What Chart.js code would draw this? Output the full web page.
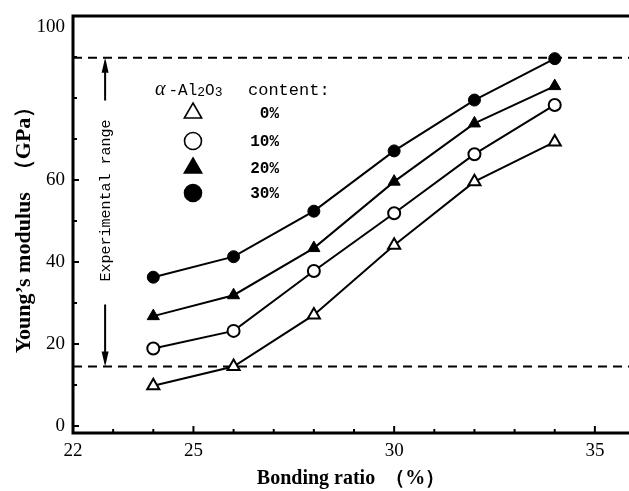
<!DOCTYPE html>
<html>
<head>
<meta charset="utf-8">
<script src="https://cdn.jsdelivr.net/npm/chart.js@4.4.0/dist/chart.umd.min.js"></script>
<style>
  html, body { margin: 0; padding: 0; background: #fff; overflow: hidden; }
  #wrap { width: 629px; height: 491px; }
</style>
</head>
<body>
<div id="wrap"><canvas id="modulusChart"></canvas></div>
<script>
// values
const bondingRatio = [24, 26, 28, 30, 32, 34];
const alumina0 = [9.8, 14.5, 27.1, 44.1, 59.6, 69.3];
const alumina10 = [18.9, 23.2, 37.8, 51.9, 66.3, 78.3];
const alumina20 = [26.8, 31.9, 43.4, 59.6, 73.8, 82.9];
const alumina30 = [36.3, 41.3, 52.4, 67.1, 79.5, 89.6];
const contentLabels = ['0%', '10%', '20%', '30%'];

const rangeUpper = 89.8;
const rangeLower = 14.5;

const xTickValues = [22, 23, 24, 25, 26, 27, 28, 29, 30, 31, 32, 33, 34, 35];
const xTickLabels = [22, 25, 30, 35];
const yTickValues = [0, 10, 20, 30, 40, 50, 60, 70, 80, 90, 100];
const yTickLabels = [0, 20, 40, 60, 100];

const X_MIN = 22, X_MAX = 35.85;
const Y_MIN = -1.7, Y_MAX = 100;

const serif = '"Liberation Serif", "Times New Roman", serif';
const mono = '"Liberation Mono", "DejaVu Sans Mono", monospace';

function series(label, values, style, filled) {
    return {
        label,
        data: bondingRatio.map((x, i) => ({ x, y: values[i] })),
        borderColor: '#000',
        borderWidth: 2,
        pointStyle: style,
        pointRadius: style === 'triangle' ? 7 : 6,
        pointBackgroundColor: filled ? '#000' : '#fff',
        pointBorderColor: '#000',
        pointBorderWidth: filled ? 1 : 2,
        tension: 0,
        clip: false
    };
}

function rangeLine(value) {
    return {
        label: 'range',
        data: [{ x: X_MIN, y: value }, { x: X_MAX, y: value }],
        borderColor: '#000',
        borderWidth: 2,
        borderDash: [9, 6],
        pointRadius: 0,
        tension: 0
    };
}

function drawMark(ctx, style, filled, x, y, r) {
    ctx.save();
    ctx.beginPath();
    if (style === 'triangle') {
        ctx.moveTo(x, y - r);
        ctx.lineTo(x + r * 0.866, y + r * 0.5);
        ctx.lineTo(x - r * 0.866, y + r * 0.5);
        ctx.closePath();
    } else {
        ctx.arc(x, y, r, 0, Math.PI * 2);
    }
    ctx.fillStyle = filled ? '#000' : '#fff';
    ctx.fill();
    ctx.lineWidth = 1.6;
    ctx.strokeStyle = '#000';
    ctx.stroke();
    ctx.restore();
}

const framePlugin = {
    id: 'frame',
    afterDraw(chart) {
        const { ctx, chartArea: a, scales } = chart;
        const xs = scales.x, ys = scales.y;
        ctx.save();
        ctx.strokeStyle = '#000';
        ctx.fillStyle = '#000';

        // axis frame: left, top, bottom (no right edge in the figure)
        ctx.lineWidth = 3;
        ctx.beginPath();
        ctx.moveTo(chart.width, a.top);
        ctx.lineTo(a.left, a.top);
        ctx.lineTo(a.left, a.bottom);
        ctx.lineTo(chart.width, a.bottom);
        ctx.stroke();

        // inward tick marks
        ctx.lineWidth = 2;
        xs.ticks.forEach(t => {
            const px = xs.getPixelForValue(t.value);
            const len = xTickLabels.includes(t.value) ? 7 : 4;
            ctx.beginPath();
            ctx.moveTo(px, a.bottom);
            ctx.lineTo(px, a.bottom - len);
            ctx.stroke();
        });
        ys.ticks.forEach(t => {
            const py = ys.getPixelForValue(t.value);
            const len = yTickLabels.includes(t.value) ? 6 : 4;
            ctx.beginPath();
            ctx.moveTo(a.left, py);
            ctx.lineTo(a.left + len, py);
            ctx.stroke();
        });

        // the "100" label sits just under the top frame line
        ctx.font = '19px ' + serif;
        ctx.textAlign = 'right';
        ctx.textBaseline = 'middle';
        ctx.fillText('100', a.left - 8, a.top + 11);

        // experimental range arrow
        const ax = xs.getPixelForValue(22.8);
        const yTop = ys.getPixelForValue(rangeUpper);
        const yBot = ys.getPixelForValue(rangeLower);
        const yMid = ys.getPixelForValue(55);
        ctx.lineWidth = 2;
        ctx.beginPath();
        ctx.moveTo(ax, yTop + 4);
        ctx.lineTo(ax, yMid - 100);
        ctx.moveTo(ax, yMid + 104);
        ctx.lineTo(ax, yBot - 4);
        ctx.stroke();
        ctx.beginPath();
        ctx.moveTo(ax, yTop);
        ctx.lineTo(ax - 3.5, yTop + 15);
        ctx.lineTo(ax + 3.5, yTop + 15);
        ctx.closePath();
        ctx.moveTo(ax, yBot);
        ctx.lineTo(ax - 3.5, yBot - 15);
        ctx.lineTo(ax + 3.5, yBot - 15);
        ctx.closePath();
        ctx.fill();

        ctx.save();
        ctx.translate(ax + 1, yMid);
        ctx.rotate(-Math.PI / 2);
        ctx.font = '15px ' + mono;
        ctx.textAlign = 'center';
        ctx.textBaseline = 'middle';
        ctx.fillText('Experimental range', 0, 0);
        ctx.restore();

        // legend block
        let x = 155;
        const base = 95;
        ctx.textAlign = 'left';
        ctx.textBaseline = 'alphabetic';
        ctx.font = 'italic 20px ' + serif;
        ctx.fillText('α', x, base);
        x += ctx.measureText('α').width + 3;
        ctx.font = '16px ' + mono;
        ctx.fillText('-Al', x, base);
        x += ctx.measureText('-Al').width;
        ctx.font = '13px ' + mono;
        ctx.fillText('2', x, base + 1);
        x += ctx.measureText('2').width;
        ctx.font = '16px ' + mono;
        ctx.fillText('O', x, base);
        x += ctx.measureText('O').width;
        ctx.font = '13px ' + mono;
        ctx.fillText('3', x, base + 1);
        ctx.font = '17px ' + mono;
        ctx.fillText('content:', 248, base);

        const rows = [113, 141, 168, 193];
        const styles = [['triangle', false], ['circle', false], ['triangle', true], ['circle', true]];
        rows.forEach((ry, i) => {
            const [st, filled] = styles[i];
            drawMark(ctx, st, filled, 193, ry, st === 'triangle' ? 10 : 8.5);
            ctx.font = 'bold 16px ' + mono;
            ctx.textAlign = 'right';
            ctx.textBaseline = 'middle';
            ctx.fillText(contentLabels[i], 279, ry + 1);
            ctx.textAlign = 'left';
            ctx.textBaseline = 'alphabetic';
        });

        ctx.restore();
    }
};

new Chart(document.getElementById('modulusChart'), {
    type: 'line',
    data: {
        datasets: [
            series('30%', alumina30, 'circle', true),
            series('20%', alumina20, 'triangle', true),
            series('10%', alumina10, 'circle', false),
            series('0%', alumina0, 'triangle', false),
            rangeLine(rangeUpper),
            rangeLine(rangeLower)
        ]
    },
    options: {
        responsive: true,
        maintainAspectRatio: false,
        animation: false,
        layout: {
            autoPadding: false,
            padding: { top: 16, right: 0, left: 0, bottom: 0 }
        },
        plugins: {
            legend: { display: false },
            tooltip: { enabled: false }
        },
        scales: {
            x: {
                type: 'linear',
                min: X_MIN,
                max: X_MAX,
                afterBuildTicks: scale => { scale.ticks = xTickValues.map(v => ({ value: v })); },
                afterFit: scale => {
                    scale.height = 58;
                    scale.paddingLeft = 0;
                    scale.paddingRight = 0;
                },
                grid: { display: false, drawTicks: false },
                border: { display: false },
                ticks: {
                    color: '#000',
                    padding: 7,
                    maxRotation: 0,
                    autoSkip: false,
                    font: { family: serif, size: 19 },
                    callback: v => xTickLabels.includes(v) ? String(v) : ''
                },
                title: {
                    display: true,
                    text: 'Bonding ratio  （%）',
                    color: '#000',
                    font: { family: serif, size: 20, weight: 'bold' },
                    padding: { top: 0, bottom: 0 }
                }
            },
            y: {
                type: 'linear',
                min: Y_MIN,
                max: Y_MAX,
                afterBuildTicks: scale => { scale.ticks = yTickValues.map(v => ({ value: v })); },
                afterFit: scale => {
                    scale.width = 73;
                    scale.paddingTop = 0;
                    scale.paddingBottom = 0;
                },
                grid: { display: false, drawTicks: false },
                border: { display: false },
                ticks: {
                    color: '#000',
                    padding: 8,
                    autoSkip: false,
                    font: { family: serif, size: 19 },
                    callback: v => (yTickLabels.includes(v) && v !== 100) ? String(v) : ''
                },
                title: {
                    display: true,
                    text: 'Young’s modulus  （GPa）',
                    color: '#000',
                    font: { family: serif, size: 22, weight: 'bold' },
                    padding: { top: 11, bottom: 0 }
                }
            }
        }
    },
    plugins: [framePlugin]
});
</script>
</body>
</html>
